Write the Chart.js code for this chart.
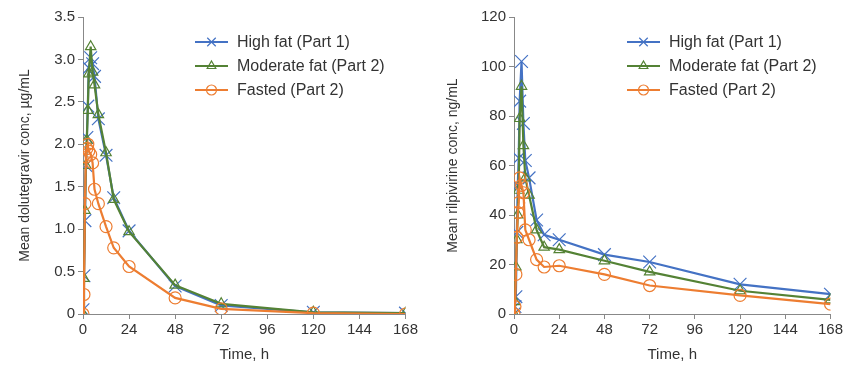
<!DOCTYPE html>
<html>
<head>
<meta charset="utf-8">
<script src="https://cdn.jsdelivr.net/npm/chart.js@4/dist/chart.umd.min.js"></script>
<style>
  body { margin: 0; background: #fff; }
  .wrap { position: absolute; top: 0; height: 368px; }
  #left { left: 0; width: 420px; }
  #right { left: 420px; width: 425px; }
</style>
</head>
<body>
<div class="wrap" id="left"><canvas id="dtgChart"></canvas></div>
<div class="wrap" id="right"><canvas id="rpvChart"></canvas></div>
<script>
// 시간 (h)
const timePoints = [0, 0.5, 1, 1.5, 2, 2.5, 3, 4, 5, 6, 8, 12, 16, 24, 48, 72, 120, 168];
const xTicks = [0, 24, 48, 72, 96, 120, 144, 168];

const seriesNames = ['High fat (Part 1)', 'Moderate fat (Part 2)', 'Fasted (Part 2)'];

// dolutegravir, µg/mL
const dtgHighFat     = [0.05, 0.45, 1.1, 1.75, 2.08, 2.45, 2.9, 3.02, 2.95, 2.8, 2.3, 1.87, 1.37, 0.98, 0.33, 0.1, 0.02, 0.01];
const dtgModerateFat = [0, 0.42, 1.22, 1.75, 2.05, 2.4, 2.83, 3.15, 2.85, 2.7, 2.35, 1.9, 1.35, 0.97, 0.34, 0.12, 0.02, 0.01];
const dtgFasted      = [0, 0.23, 1.3, 1.85, 1.95, 2.0, 1.92, 1.88, 1.78, 1.47, 1.3, 1.03, 0.78, 0.56, 0.19, 0.06, 0.01, 0];

// rilpivirine, ng/mL
const rpvHighFat     = [0, 3, 7, 33, 52, 63, 86, 102, 77, 62, 55, 38, 32, 30, 24, 21, 12, 8];
const rpvModerateFat = [0, 5, 19, 30, 40, 50, 79, 92, 68, 55, 48, 34, 27, 26, 21.5, 17, 9.4, 5.7];
const rpvFasted      = [0, 3, 16, 31, 41, 45, 55, 52, 49, 34, 30, 22, 19, 19.5, 16, 11.5, 7.5, 4];

const colors = ['#4472C4', '#548235', '#ED7D31'];
const markers = ['crossRot', 'triangle', 'circle'];
const markerSizes = [9, 6, 6];
const drawOrder = [2, 1, 0]; // orange on top

const FONT = "'Liberation Sans', Arial, sans-serif";

function makeDatasets(valuesList) {
    return valuesList.map((vals, i) => ({
        label: seriesNames[i],
        data: timePoints.map((t, k) => ({ x: t, y: vals[k] })),
        borderColor: colors[i],
        backgroundColor: 'rgba(255,255,255,0)',
        borderWidth: 2.2,
        pointStyle: markers[i],
        pointRadius: markerSizes[i],
        pointBorderColor: colors[i],
        pointBackgroundColor: 'rgba(255,255,255,0)',
        pointBorderWidth: 1.2,
        tension: 0,
        order: drawOrder[i]
    }));
}

// 차트 안쪽 범례
const innerLegend = {
    id: 'innerLegend',
    afterDraw(chart, args, opts) {
        const ctx = chart.ctx;
        ctx.save();
        ctx.font = '16px ' + FONT;
        ctx.textBaseline = 'middle';
        chart.data.datasets.forEach((ds, i) => {
            const y = opts.top + i * 24;
            ctx.strokeStyle = ds.borderColor;
            ctx.lineWidth = 2.2;
            ctx.beginPath();
            ctx.moveTo(opts.x, y);
            ctx.lineTo(opts.x + 33, y);
            ctx.stroke();
            ctx.lineWidth = 1.2;
            ctx.fillStyle = 'rgba(255,255,255,0)';
            Chart.helpers.drawPoint(ctx, { pointStyle: ds.pointStyle, radius: i === 0 ? 6 : 5, rotation: 0, borderWidth: 1.2 }, opts.x + 16.5, y);
            ctx.fillStyle = '#333';
            ctx.fillText(ds.label, opts.x + 42, y + 1);
        });
        ctx.restore();
    }
};

function makeChart(id, valuesList, yMax, yStep, yTitle, padLeft, yWidth, legendX) {
    return new Chart(document.getElementById(id), {
        type: 'line',
        data: { datasets: makeDatasets(valuesList) },
        options: {
            responsive: true,
            maintainAspectRatio: false,
            animation: false,
            layout: { padding: { top: 17, left: padLeft, right: 0, bottom: 0 } },
            plugins: {
                legend: { display: false },
                tooltip: { enabled: false },
                innerLegend: { x: legendX, top: 42 }
            },
            scales: {
                x: {
                    type: 'linear',
                    min: 0, max: 168,
                    afterBuildTicks: s => { s.ticks = xTicks.map(v => ({ value: v })); },
                    grid: { drawOnChartArea: false, tickLength: 5, color: '#888' },
                    border: { color: '#888', width: 1 },
                    ticks: { color: '#333', font: { family: FONT, size: 15 }, padding: 2, maxRotation: 0 },
                    title: { display: true, text: 'Time, h', color: '#333', font: { family: FONT, size: 15 }, padding: { top: 3 } },
                    afterFit: s => { s.height = 54; }
                },
                y: {
                    min: 0, max: yMax,
                    ticks: { stepSize: yStep, color: '#333', font: { family: FONT, size: 15 }, padding: 3 },
                    grid: { drawOnChartArea: false, tickLength: 5, color: '#888' },
                    border: { color: '#888', width: 1 },
                    title: { display: true, text: yTitle, color: '#333', font: { family: FONT, size: 14 } },
                    afterFit: s => { s.width = yWidth; }
                }
            }
        },
        plugins: [innerLegend]
    });
}

makeChart('dtgChart', [dtgHighFat, dtgModerateFat, dtgFasted], 3.5, 0.5, 'Mean dolutegravir conc, µg/mL', 13, 70, 195);
makeChart('rpvChart', [rpvHighFat, rpvModerateFat, rpvFasted], 120, 20, 'Mean rilpivirine conc, ng/mL', 21, 73, 207);
</script>
</body>
</html>
